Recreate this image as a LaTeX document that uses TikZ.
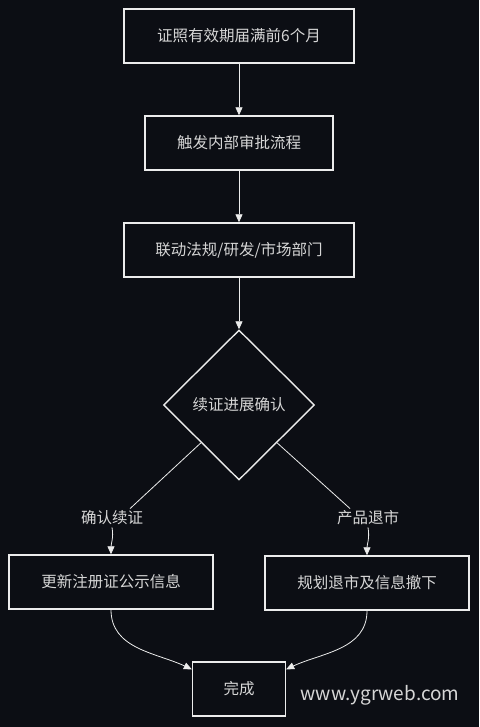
\documentclass[tikz,border=0pt]{standalone}
\usepackage{fontspec}
\setmainfont{Noto Sans CJK SC}
\usetikzlibrary{shapes.geometric,arrows.meta}
\definecolor{bg}{HTML}{0C0E14}
\definecolor{ink}{HTML}{ECECEC}
\definecolor{txt}{HTML}{D6D6D6}
\tikzset{
  stepbox/.style={draw=ink, line width=1.4pt, fill=bg, text=txt, minimum height=54pt, inner sep=0pt, font=\fontsize{15.5}{17}\selectfont},
  decision/.style={diamond, draw=ink, line width=1.4pt, fill=bg, text=txt, minimum width=151pt, minimum height=150pt, inner sep=0pt, font=\fontsize{15.5}{17}\selectfont},
  branch/.style={text=txt, inner sep=2pt, font=\fontsize{15.5}{17}\selectfont},
  flow/.style={draw=ink, line width=0.8pt, -{Triangle[width=7pt,length=8pt]}},
  plain/.style={draw=ink, line width=0.8pt}
}
\begin{document}
\begin{tikzpicture}[x=1pt,y=-1pt]
    \fill[bg] (0,0) rectangle (479,727);
    \useasboundingbox (0,0) rectangle (479,727);
    % main column
    \node[stepbox, minimum width=230pt] (expire) at (239,36) {证照有效期届满前6个月};
    \node[stepbox, minimum width=188pt] (review) at (239,143) {触发内部审批流程};
    \node[stepbox, minimum width=230pt] (depts) at (239,250) {联动法规/研发/市场部门};
    \node[decision] (check) at (239,405) {续证进展确认};
    % two branches
    \node[branch] (yes) at (112,518) {确认续证};
    \node[branch] (no) at (368,518) {产品退市};
    \node[stepbox, minimum width=204pt] (renew) at (111,582) {更新注册证公示信息};
    \node[stepbox, minimum width=204pt] (withdraw) at (367,583) {规划退市及信息撤下};
    \node[stepbox, minimum width=93pt] (done) at (239,689) {完成};
    \node[text=txt, font=\fontsize{19}{21}\selectfont] (mark) at (380,695) {www.ygrweb.com};
    % connectors
    \draw[flow] (expire) -- (review);
    \draw[flow] (review) -- (depts);
    \draw[flow] (depts) -- (check);
    \draw[plain] (check.south west) -- ([xshift=18pt]yes.north);
    \draw[plain] (check.south east) -- ([xshift=-18pt]no.north);
    \draw[flow] (yes.south) to[out=-80,in=90] (renew.north);
    \draw[flow] (no.south) to[out=-80,in=90] (withdraw.north);
    \draw[flow] (renew.south) to[out=-90,in=155] ([yshift=-8pt]done.north west);
    \draw[flow] (withdraw.south) to[out=-90,in=25] ([yshift=-8pt]done.north east);
\end{tikzpicture}
\end{document}
